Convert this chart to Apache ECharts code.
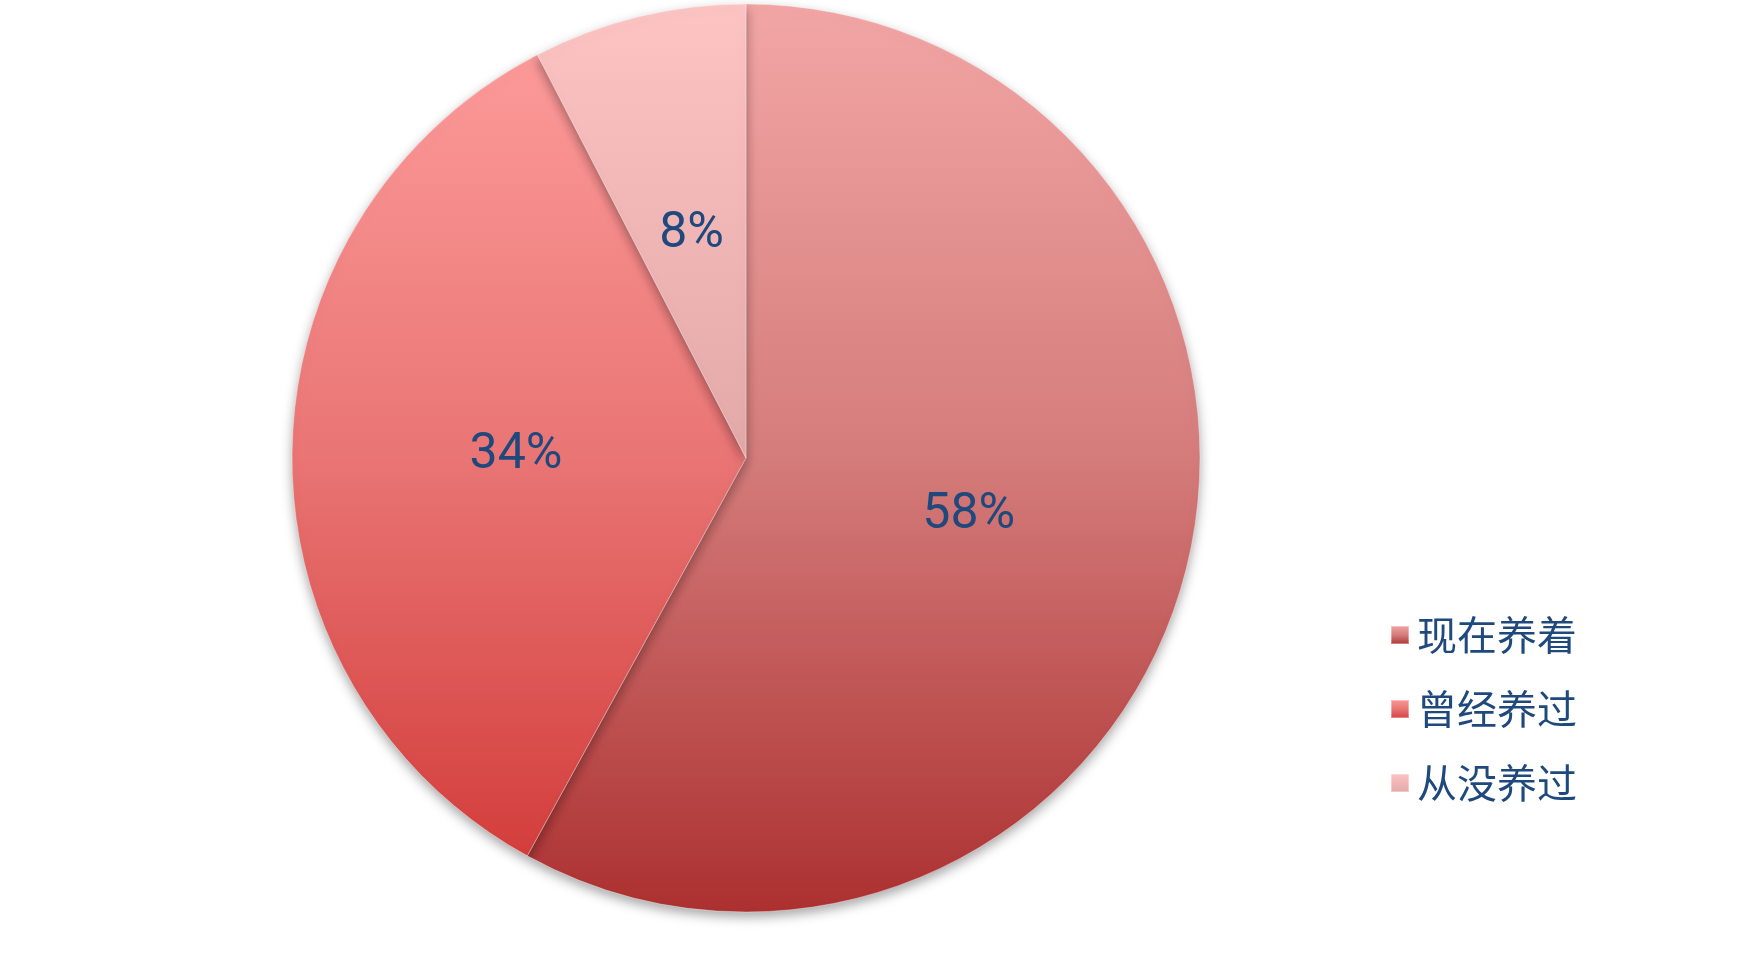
<!DOCTYPE html>
<html>
<head>
<meta charset="utf-8">
<script src="https://cdn.jsdelivr.net/npm/echarts@6/dist/echarts.min.js"></script>
<style>
  html, body { margin: 0; padding: 0; background: #fff; }
  #main { width: 1746px; height: 963px; }
</style>
</head>
<body>
<div id="main"></div>
<script>
// 数据
const categories = ["现在养着", "曾经养过", "从没养过"];
const values = [58, 34.4, 7.6];
// 每块扇形的渐变色（上 -> 中 -> 下）
const sliceColors = [
	["#F2A6A5", "#D47C7B", "#AC3030"],
	["#FC9A99", "#E97574", "#D33E3C"],
	["#FDC4C4", "#F0B5B5", "#E3A8A8"],
];

let myChart = echarts.init(document.getElementById("main"));

const seriesData = categories.map(function (name, i) {
	const c = sliceColors[i];
	return {
		name: name,
		value: values[i],
		itemStyle: {
			color: new echarts.graphic.LinearGradient(0, 0, 0, 1, [
				{ offset: 0, color: c[0] },
				{ offset: 0.5, color: c[1] },
				{ offset: 1, color: c[2] },
			]),
		},
	};
});

const option = {
	animation: false,
	legend: {
		orient: "vertical",
		left: 1385,
		top: 610,
		itemWidth: 18,
		itemHeight: 18,
		itemGap: 34,
		icon: "rect",
		textStyle: {
			fontFamily: "Noto Sans CJK SC",
			fontSize: 40,
			color: "#1F497D",
			padding: [0, 0, 0, 3],
		},
		data: categories,
	},
	series: [
		{
			type: "pie",
			center: [746, 458],
			radius: [0, 454],
			startAngle: 90,
			clockwise: true,
			// 扇形样式
			itemStyle: {
				borderColor: "rgba(255,255,255,0.35)",
				borderWidth: 1,
				shadowColor: "rgba(0,0,0,0.35)",
				shadowBlur: 12,
				shadowOffsetY: 5,
			},
			label: {
				show: true,
				position: "inside",
				formatter: function (p) {
					return Math.round(p.percent) + "%";
				},
				fontFamily: "Roboto",
				fontSize: 50,
				color: "#1F497D",
			},
			labelLine: { show: false },
			emphasis: { disabled: true },
			data: seriesData,
		},
	],
};

myChart.setOption(option);
</script>
</body>
</html>
